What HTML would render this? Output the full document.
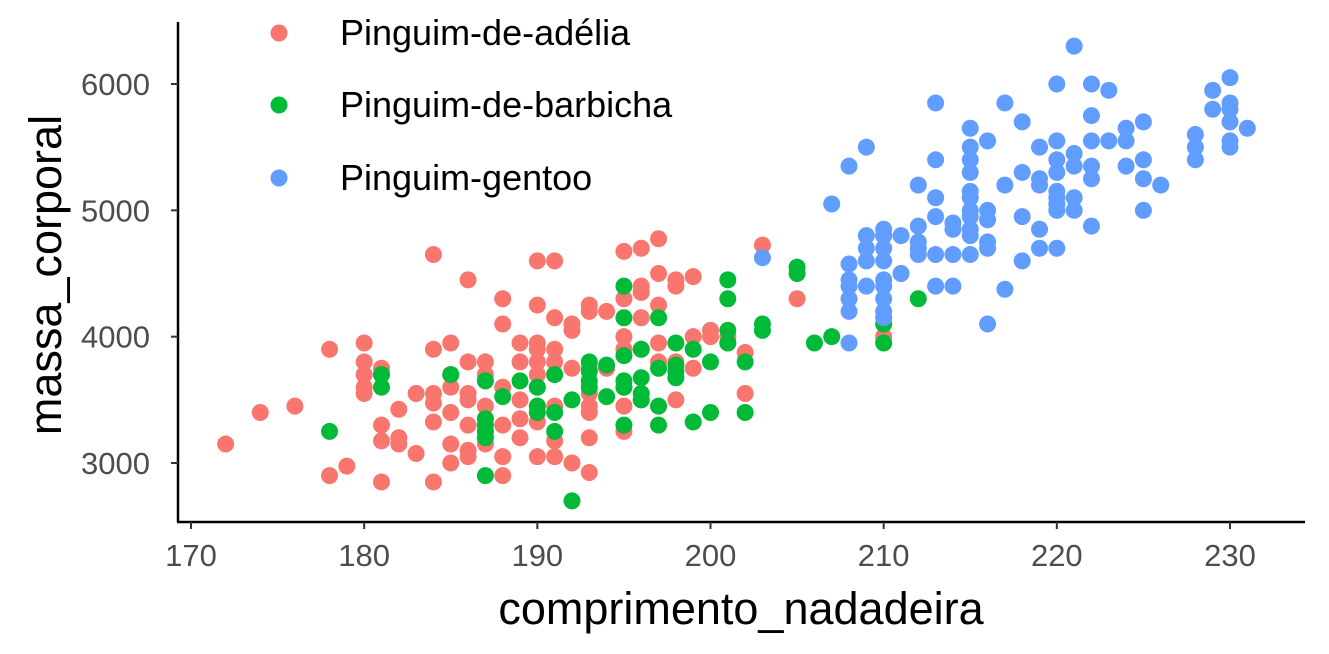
<!DOCTYPE html>
<html><head><meta charset="utf-8">
<style>
html,body{margin:0;padding:0;background:#fff;}
svg{display:block;font-family:"Liberation Sans",Arial,sans-serif;}
</style></head>
<body>
<svg id="chart" width="1329" height="654" viewBox="0 0 1329 654">
  <g id="points"></g>
  <line x1="178" y1="22" x2="178" y2="522" stroke="#000" stroke-width="2.5"/>
  <line x1="177" y1="522" x2="1305" y2="522" stroke="#000" stroke-width="2.5"/>
  <g id="xticks"></g>
  <g id="yticks"></g>
  <text x="741" y="624" font-size="45" text-anchor="middle" fill="#000">comprimento_nadadeira</text>
  <text transform="translate(61,275) rotate(-90)" font-size="45" text-anchor="middle" fill="#000">massa_corporal</text>
  <g>
    <g>
      <circle cx="279" cy="33" r="8.5" fill="#F8766D"/>
      <text x="340" y="45" font-size="36" fill="#000">Pinguim-de-adélia</text>
    </g>
    <g>
      <circle cx="279" cy="105" r="8.5" fill="#00BA38"/>
      <text x="340" y="117" font-size="36" fill="#000">Pinguim-de-barbicha</text>
    </g>
    <g>
      <circle cx="279" cy="178" r="8.5" fill="#619CFF"/>
      <text x="340" y="190" font-size="36" fill="#000">Pinguim-gentoo</text>
    </g>
  </g>
</svg>
<script>
const xTicks = [170,180,190,200,210,220,230];
const yTicks = [3000,4000,5000,6000];
const adeliaX = [172,174,176,178,178,179,180,180,180,180,180,181,181,181,181,181,182,182,182,183,183,184,184,184,184,184,184,185,185,185,185,185,185,186,186,186,186,186,186,186,187,187,187,187,187,187,188,188,188,188,188,188,189,189,189,189,189,190,190,190,190,190,190,190,190,190,190,191,191,191,191,191,191,191,191,192,192,192,192,193,193,193,193,193,193,193,193,194,194,195,195,195,195,195,195,195,196,196,196,196,196,196,197,197,197,197,197,198,198,198,198,199,199,199,200,200,201,201,202,202,203,205,210];
const adeliaY = [3150,3400,3450,3900,2900,2975,3950,3800,3700,3600,3550,3750,3700,3300,3175,2850,3425,3200,3150,3550,3075,4650,3900,3550,3475,3325,2850,3950,3700,3600,3400,3150,3000,4450,3800,3550,3500,3300,3100,3050,3800,3700,3450,3350,3250,3150,4300,4100,3600,3300,3050,2900,3950,3800,3500,3350,3200,4600,4250,3950,3900,3800,3700,3600,3450,3325,3050,4600,4150,3900,3800,3700,3450,3175,3050,4100,4050,3750,3000,4250,4200,3750,3550,3450,3400,3200,2925,4200,3750,4675,4300,4000,3900,3600,3450,3250,4700,4400,4350,4150,3900,3500,4775,4500,4250,3950,3800,4450,4400,3800,3500,4475,4000,3750,4050,4000,4000,3950,3875,3550,4725,4300,4000];
const barbichaX = [178,181,181,185,187,187,187,187,187,187,188,189,190,190,190,191,191,191,192,192,193,193,193,193,194,194,195,195,195,195,195,195,196,196,196,196,197,197,197,197,198,198,198,198,199,199,200,200,201,201,201,201,202,202,203,203,205,205,206,207,210,210,210,212];
const barbichaY = [3250,3700,3600,3700,3650,3350,3300,3250,3200,2900,3525,3650,3600,3450,3400,3700,3400,3250,3500,2700,3800,3725,3650,3600,3775,3525,4400,4150,3850,3650,3600,3300,3900,3675,3550,3500,4150,3750,3450,3300,3950,3775,3725,3675,3900,3325,3800,3400,4450,4300,4050,3950,3800,3400,4100,4050,4550,4500,3950,4000,4800,4100,3950,4300];
const gentooX = [203,207,208,208,208,208,208,208,208,209,209,209,209,209,210,210,210,210,210,210,210,210,210,211,211,212,212,212,212,212,213,213,213,213,213,213,214,214,214,214,215,215,215,215,215,215,215,215,215,215,215,216,216,216,216,216,216,217,217,217,218,218,218,218,219,219,219,219,219,220,220,220,220,220,220,220,220,220,221,221,221,221,221,222,222,222,222,222,222,223,223,224,224,224,225,225,225,225,226,228,228,228,229,229,230,230,230,230,230,230,231];
const gentooY = [4625,5050,5350,4575,4450,4400,4300,4200,3950,5500,4800,4700,4600,4400,4850,4800,4700,4600,4450,4400,4300,4200,4150,4800,4500,5200,4875,4750,4700,4650,5850,5400,5100,4950,4650,4400,4900,4850,4650,4400,5650,5500,5400,5300,5150,5100,5000,4950,4850,4800,4650,5550,5000,4925,4750,4700,4100,5850,5200,4375,5700,5300,4950,4600,5500,5250,5200,4850,4700,6000,5550,5400,5300,5150,5100,5050,5000,4700,6300,5450,5350,5100,5000,6000,5750,5550,5350,5250,4875,5950,5550,5650,5550,5350,5700,5400,5250,5000,5200,5600,5500,5400,5950,5800,6050,5850,5800,5700,5550,5500,5650];

const NS = "http://www.w3.org/2000/svg";
function xScale(v){ return 191 + (v - 170) * (1230 - 191) / 60; }
function yScale(v){ return 463 - (v - 3000) * (463 - 84) / 3000; }

const pts = document.getElementById('points');
function drawSeries(xs, ys, color, name){
  for (let i = 0; i < xs.length; i++){
    const c = document.createElementNS(NS, 'circle');
    c.setAttribute('cx', xScale(xs[i]));
    c.setAttribute('cy', yScale(ys[i]));
    c.setAttribute('r', 8.5);
    c.setAttribute('fill', color);
    
    
    pts.appendChild(c);
  }
}
drawSeries(adeliaX, adeliaY, '#F8766D', 'point-adelia');
drawSeries(barbichaX, barbichaY, '#00BA38', 'point-barbicha');
drawSeries(gentooX, gentooY, '#619CFF', 'point-gentoo');

const xg = document.getElementById('xticks');
xTicks.forEach(function(t){
  const x = xScale(t);
  const l = document.createElementNS(NS, 'line');
  l.setAttribute('x1', x); l.setAttribute('x2', x);
  l.setAttribute('y1', 522); l.setAttribute('y2', 529);
  l.setAttribute('stroke', '#333'); l.setAttribute('stroke-width', '2');
  
  
  xg.appendChild(l);
  const tx = document.createElementNS(NS, 'text');
  tx.setAttribute('x', x); tx.setAttribute('y', 566);
  tx.setAttribute('text-anchor', 'middle');
  tx.setAttribute('font-size', '31');
  tx.setAttribute('fill', '#4d4d4d');
  tx.textContent = t;
  
  
  xg.appendChild(tx);
});
const yg = document.getElementById('yticks');
yTicks.forEach(function(t){
  const y = yScale(t);
  const l = document.createElementNS(NS, 'line');
  l.setAttribute('x1', 171); l.setAttribute('x2', 178);
  l.setAttribute('y1', y); l.setAttribute('y2', y);
  l.setAttribute('stroke', '#333'); l.setAttribute('stroke-width', '2');
  
  
  yg.appendChild(l);
  const tx = document.createElementNS(NS, 'text');
  tx.setAttribute('x', 150); tx.setAttribute('y', y + 11);
  tx.setAttribute('text-anchor', 'end');
  tx.setAttribute('font-size', '31');
  tx.setAttribute('fill', '#4d4d4d');
  tx.textContent = t;
  
  
  yg.appendChild(tx);
});
</script>
</body></html>
